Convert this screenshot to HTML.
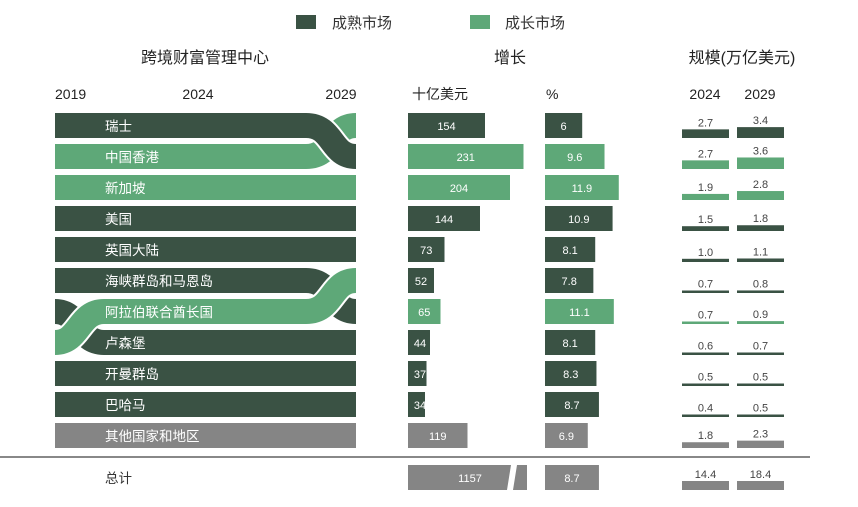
<!DOCTYPE html>
<html><head><meta charset="utf-8"><style>
body{margin:0;background:#fff;width:858px;height:502px;overflow:hidden;font-family:"Liberation Sans","Noto Sans CJK SC",sans-serif}
</style></head><body>
<svg id="c" width="858" height="502" xmlns="http://www.w3.org/2000/svg" font-family="Liberation Sans, Noto Sans CJK SC, sans-serif">
<g>
<rect x="296" y="15" width="20" height="14" fill="#3a5244"/>
<text x="332" y="28" font-size="15" fill="#333">成熟市场</text>
<rect x="470" y="15" width="20" height="14" fill="#5ea878"/>
<text x="505" y="28" font-size="15" fill="#333">成长市场</text>
</g>
<text x="205" y="63" font-size="16" fill="#222" text-anchor="middle">跨境财富管理中心</text>
<text x="510" y="63" font-size="16" fill="#222" text-anchor="middle">增长</text>
<text x="742" y="63" font-size="16" fill="#222" text-anchor="middle">规模(万亿美元)</text>
<text x="55" y="99" font-size="14" fill="#222">2019</text>
<text x="198" y="99" font-size="14" fill="#222" text-anchor="middle">2024</text>
<text x="341" y="99" font-size="14" fill="#222" text-anchor="middle">2029</text>
<text x="412" y="99" font-size="14" fill="#222">十亿美元</text>
<text x="546" y="99" font-size="14" fill="#222">%</text>
<text x="705" y="99" font-size="14" fill="#222" text-anchor="middle">2024</text>
<text x="760" y="99" font-size="14" fill="#222" text-anchor="middle">2029</text>
<line x1="0" y1="457" x2="810" y2="457" stroke="#888" stroke-width="2"/>
<g id="ribbons"></g>
<g id="rows"></g>
</svg>
<script>
const names=["瑞士","中国香港","新加坡","美国","英国大陆","海峡群岛和马恩岛","阿拉伯联合酋长国","卢森堡","开曼群岛","巴哈马","其他国家和地区"];
const types=["m","g","g","m","m","m","g","m","m","m","o"];
const growthB=[154,231,204,144,73,52,65,44,37,34,119];
const growthP=[6,9.6,11.9,10.9,8.1,7.8,11.1,8.1,8.3,8.7,6.9];
const size24=[2.7,2.7,1.9,1.5,1.0,0.7,0.7,0.6,0.5,0.4,1.8];
const size29=[3.4,3.6,2.8,1.8,1.1,0.8,0.9,0.7,0.5,0.5,2.3];
const totalB=1157, totalP=8.7, total24=14.4, total29=18.4;
const col={m:"#3a5244",g:"#5ea878",o:"#858585"};
const NS="http://www.w3.org/2000/svg";
const rowY=i=>113+i*31;
const xB=v=>v*0.5, xP=v=>v*6.2, hS=v=>Math.max(2.5,v*3.2);
const G=document.getElementById('rows'), R=document.getElementById('ribbons');
function mk(tag,a,p){const e=document.createElementNS(NS,tag);for(const k in a)e.setAttribute(k,a[k]);(p||G).appendChild(e);return e;}
function txt(x,y,s,fill,anchor,size){const t=mk('text',{x:x,y:y,'font-size':size||12,fill:fill,'text-anchor':anchor||'start'});t.textContent=s;return t;}
const special={0:1,1:1,5:1,6:1,7:1};
names.forEach((n,i)=>{
  const y=rowY(i), c=col[types[i]];
  if(!special[i]){const r=mk('rect',{x:55,y:y,width:301,height:25,fill:c});
    
    }
  const b=mk('rect',{x:408,y:y,width:xB(growthB[i]),height:25,fill:c});
  
  
  const bt=txt(408+Math.max(xB(growthB[i])/2,12),y+17,String(growthB[i]),'#fff','middle',11);
  
  
  const p=mk('rect',{x:545,y:y,width:xP(growthP[i]),height:25,fill:c});
  
  
  const pt=txt(545+xP(growthP[i])/2,y+17,String(growthP[i]),'#fff','middle',11);
  
  
  [[682,size24[i]],[737,size29[i]]].forEach(([x,v],k)=>{
    const h=hS(v);
    const s=mk('rect',{x:x,y:y+25-h,width:47,height:h,fill:c});
    
    
    const st=txt(x+23.5,y+22-h,v.toFixed(1),'#444','middle',11);
    
    
  });
});
function band(d,c){const o=mk('path',{d:d,fill:'none',stroke:'#fff','stroke-width':29},R);
  
  
  const p=mk('path',{d:d,fill:'none',stroke:c,'stroke-width':25},R);
  
  }
const c0=i=>rowY(i)+12.5;
band(`M55 ${c0(1)} H306 C334 ${c0(1)} 330 ${c0(0)} 356 ${c0(0)}`,col.g);
band(`M55 ${c0(0)} H306 C334 ${c0(0)} 330 ${c0(1)} 356 ${c0(1)}`,col.m);
band(`M55 ${c0(6)} C80 ${c0(6)} 78 ${c0(7)} 104 ${c0(7)} H356`,col.m);
band(`M55 ${c0(5)} H306 C334 ${c0(5)} 330 ${c0(6)} 356 ${c0(6)}`,col.m);
band(`M55 ${c0(7)} C80 ${c0(7)} 78 ${c0(6)} 104 ${c0(6)} H306 C334 ${c0(6)} 330 ${c0(5)} 356 ${c0(5)}`,col.g);
names.forEach((n,i)=>{const t=txt(105,rowY(i)+18,n,'#fff','start',13.5);
  
  });
const ty=465;
const tl=txt(105,ty+18,'总计','#333','start',13.5);


const tb=mk('path',{d:`M408 ${ty} H511 L507 ${ty+25} H408 Z M517 ${ty} H527 V${ty+25} H513 Z`,fill:col.o});


const tbt=txt(470,ty+17,String(totalB),'#fff','middle',11);


const tp=mk('rect',{x:545,y:ty,width:xP(totalP),height:25,fill:col.o});


const tpt=txt(545+xP(totalP)/2,ty+17,String(totalP),'#fff','middle',11);


[[682,total24],[737,total29]].forEach(([x,v])=>{
  const s=mk('rect',{x:x,y:ty+16,width:47,height:9,fill:col.o});
  
  
  const st=txt(x+23.5,ty+13,v.toFixed(1),'#444','middle',11);
  
  
});
</script>
</body></html>
